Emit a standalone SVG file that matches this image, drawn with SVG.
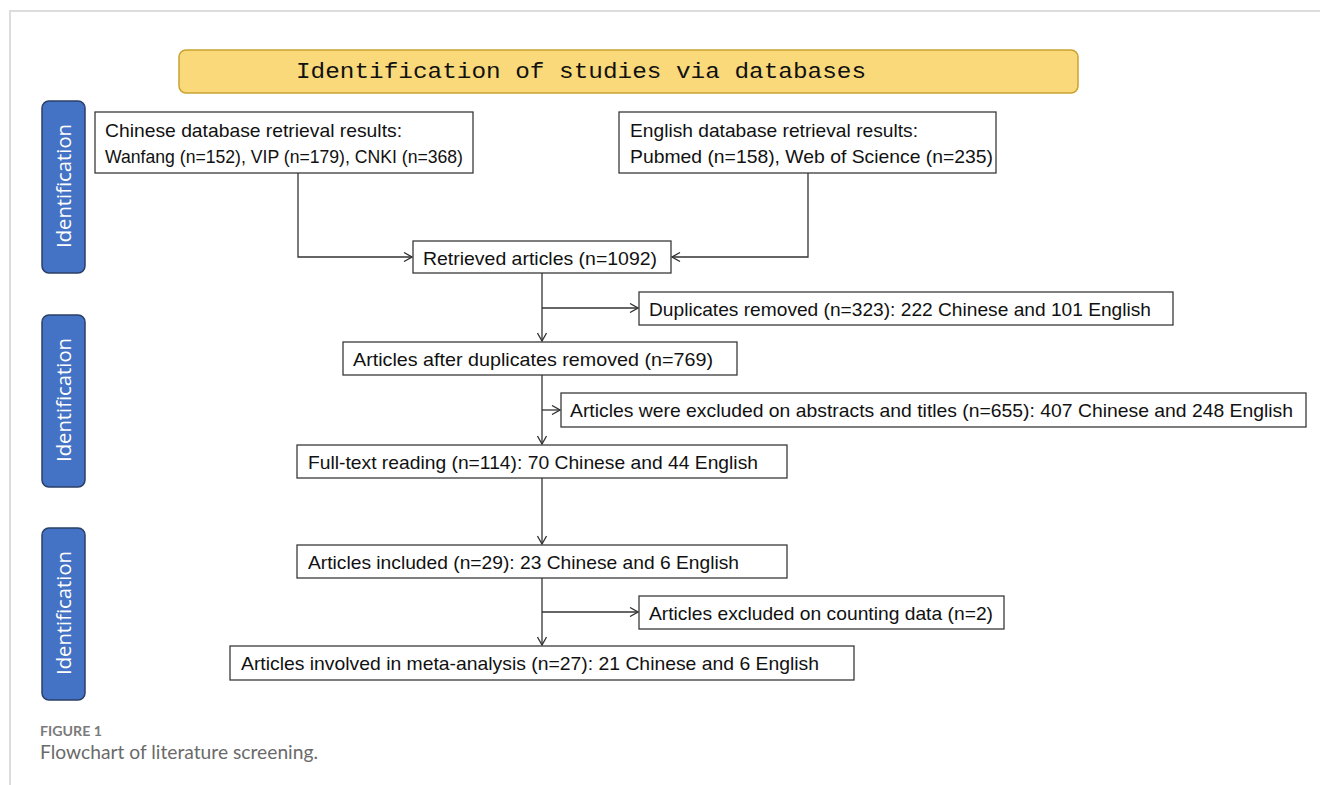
<svg xmlns="http://www.w3.org/2000/svg" width="1320" height="785" viewBox="0 0 1320 785">
<defs>
<style>
.frame{fill:none;stroke:#dcdcdc;stroke-width:2}
.box{fill:#fff;stroke:#3a3a3a;stroke-width:1.3}
.t{font-family:"Liberation Sans",Arial,sans-serif;font-size:19px;fill:#111}
.side{fill:#4472c4;stroke:#2a3f66;stroke-width:1.5}
.sidet{font-family:"Open Sans","Noto Sans",sans-serif;font-size:20px;fill:#fff}
.ban{fill:#f9d97a;stroke:#c9a230;stroke-width:1.5}
.bant{font-family:"Liberation Mono","DejaVu Sans Mono",monospace;font-size:22px;fill:#111}
.conn{fill:none;stroke:#333;stroke-width:1.3}
.cap1{font-family:Lato,"Open Sans",sans-serif;font-size:14px;font-weight:bold;fill:#7a7a7a}
.cap2{font-family:Lato,"Open Sans",sans-serif;font-size:19px;fill:#6a6a6a}
</style>
<marker id="arr" markerWidth="10" markerHeight="10" refX="9" refY="5" orient="auto" markerUnits="userSpaceOnUse">
<path d="M1,0.5 L9,5 L1,9.5" fill="none" stroke="#333" stroke-width="1.3"/>
</marker>
</defs>
<rect width="1320" height="785" fill="#fff"/>
<path class="frame" d="M10,785 L10,11 L1320,11"/>

<g id="banner">
<rect class="ban" x="179" y="50" width="899" height="43" rx="7"/>
<text class="bant" x="296" y="78" textLength="570" lengthAdjust="spacingAndGlyphs">Identification of studies via databases</text>
</g>

<g id="side1">
<rect class="side" x="42" y="101" width="43" height="172" rx="7"/>
<text class="sidet" transform="translate(71,186) rotate(-90)" text-anchor="middle" textLength="124" lengthAdjust="spacingAndGlyphs">Identification</text>
</g>
<g id="side2">
<rect class="side" x="42" y="315" width="43" height="172" rx="7"/>
<text class="sidet" transform="translate(71,400) rotate(-90)" text-anchor="middle" textLength="124" lengthAdjust="spacingAndGlyphs">Identification</text>
</g>
<g id="side3">
<rect class="side" x="42" y="528" width="43" height="172" rx="7"/>
<text class="sidet" transform="translate(71,613) rotate(-90)" text-anchor="middle" textLength="124" lengthAdjust="spacingAndGlyphs">Identification</text>
</g>

<g id="chinese">
<rect class="box" x="95" y="112" width="378" height="61"/>
<text class="t" x="105" y="137" textLength="297" lengthAdjust="spacingAndGlyphs">Chinese database retrieval results:</text>
<text class="t" x="105" y="163" textLength="358" lengthAdjust="spacingAndGlyphs">Wanfang (n=152), VIP (n=179), CNKI (n=368)</text>
</g>
<g id="english">
<rect class="box" x="619" y="112" width="377" height="61"/>
<text class="t" x="630" y="137" textLength="288" lengthAdjust="spacingAndGlyphs">English database retrieval results:</text>
<text class="t" x="630" y="163" textLength="363" lengthAdjust="spacingAndGlyphs">Pubmed (n=158), Web of Science (n=235)</text>
</g>
<g id="retrieved">
<rect class="box" x="413" y="241" width="258" height="32"/>
<text class="t" x="423" y="265" textLength="234" lengthAdjust="spacingAndGlyphs">Retrieved articles (n=1092)</text>
</g>
<g id="duplicates">
<rect class="box" x="639" y="292" width="534" height="33"/>
<text class="t" x="649" y="316" textLength="502" lengthAdjust="spacingAndGlyphs">Duplicates removed (n=323): 222 Chinese and 101 English</text>
</g>
<g id="afterdup">
<rect class="box" x="343" y="342" width="394" height="33"/>
<text class="t" x="353" y="366" textLength="360" lengthAdjust="spacingAndGlyphs">Articles after duplicates removed (n=769)</text>
</g>
<g id="excluded1">
<rect class="box" x="561" y="393" width="745" height="34"/>
<text class="t" x="570" y="417" textLength="723" lengthAdjust="spacingAndGlyphs">Articles were excluded on abstracts and titles (n=655): 407 Chinese and 248 English</text>
</g>
<g id="fulltext">
<rect class="box" x="297" y="445" width="490" height="33"/>
<text class="t" x="308" y="469" textLength="450" lengthAdjust="spacingAndGlyphs">Full-text reading (n=114): 70 Chinese and 44 English</text>
</g>
<g id="included">
<rect class="box" x="297" y="545" width="490" height="33"/>
<text class="t" x="308" y="569" textLength="431" lengthAdjust="spacingAndGlyphs">Articles included (n=29): 23 Chinese and 6 English</text>
</g>
<g id="excluded2">
<rect class="box" x="639" y="596" width="365" height="33"/>
<text class="t" x="649" y="620" textLength="344" lengthAdjust="spacingAndGlyphs">Articles excluded on counting data (n=2)</text>
</g>
<g id="meta">
<rect class="box" x="230" y="646" width="624" height="34"/>
<text class="t" x="241" y="670" textLength="578" lengthAdjust="spacingAndGlyphs">Articles involved in meta-analysis (n=27): 21 Chinese and 6 English</text>
</g>

<g id="connectors">
<path class="conn" d="M298,173 L298,257 L412,257" marker-end="url(#arr)"/>
<path class="conn" d="M808,173 L808,257 L672,257" marker-end="url(#arr)"/>
<path class="conn" d="M542,273 L542,341" marker-end="url(#arr)"/>
<path class="conn" d="M542,308 L638,308" marker-end="url(#arr)"/>
<path class="conn" d="M542,375 L542,444" marker-end="url(#arr)"/>
<path class="conn" d="M542,410 L560,410" marker-end="url(#arr)"/>
<path class="conn" d="M542,478 L542,544" marker-end="url(#arr)"/>
<path class="conn" d="M542,578 L542,645" marker-end="url(#arr)"/>
<path class="conn" d="M542,612 L638,612" marker-end="url(#arr)"/>
</g>

<text class="cap1" x="40" y="736" textLength="62" lengthAdjust="spacingAndGlyphs">FIGURE 1</text>
<text class="cap2" x="40" y="759" textLength="278" lengthAdjust="spacingAndGlyphs">Flowchart of literature screening.</text>
</svg>
